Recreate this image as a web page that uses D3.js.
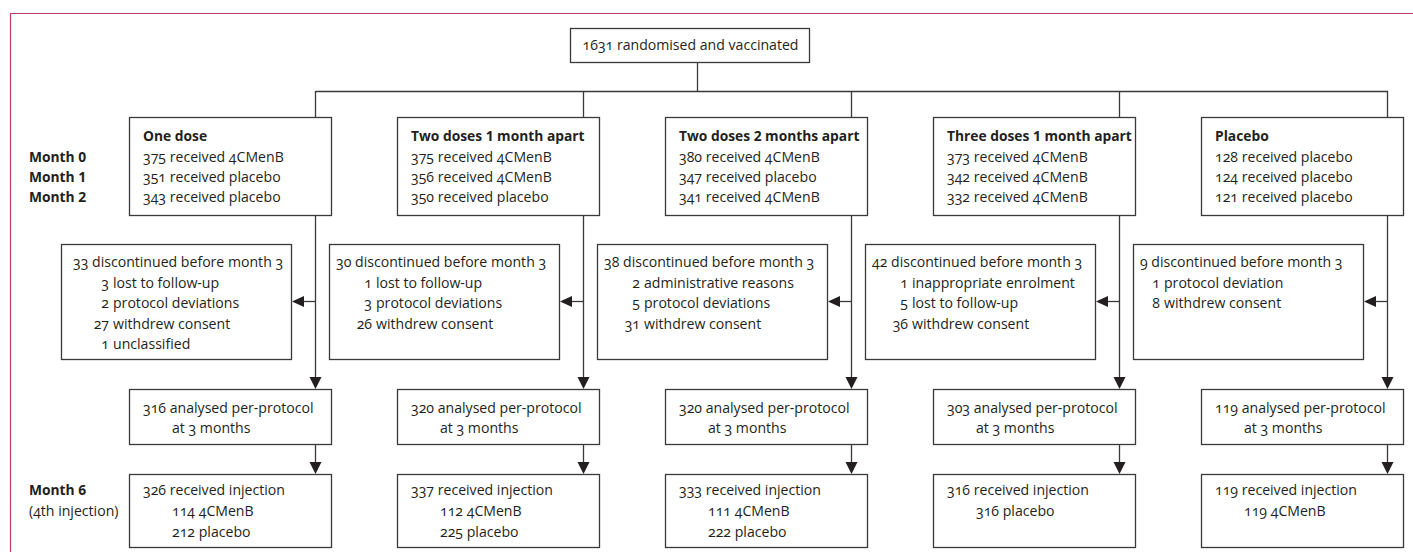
<!DOCTYPE html>
<html><head><meta charset="utf-8">
<script src="https://cdn.jsdelivr.net/npm/d3@7"></script>
<style>
body{margin:0;background:#fff}
text{font-family:"Open Sans",sans-serif;font-size:14.1px;fill:#231f20;font-variant-numeric:oldstyle-nums}
.b{font-weight:bold;font-size:13.8px;font-variant-numeric:lining-nums}
</style>
</head><body><svg id="c" width="1413" height="552"></svg>
<script>
// ---------- data ----------
const totalRandomised = 1631;
const groupTitles = ["One dose", "Two doses 1 month apart", "Two doses 2 months apart", "Three doses 1 month apart", "Placebo"];
const monthLabels = ["Month 0", "Month 1", "Month 2"];
const month0N = [375, 375, 380, 373, 128];
const month0V = ["4CMenB", "4CMenB", "4CMenB", "4CMenB", "placebo"];
const month1N = [351, 356, 347, 342, 124];
const month1V = ["placebo", "4CMenB", "placebo", "4CMenB", "placebo"];
const month2N = [343, 350, 341, 332, 121];
const month2V = ["placebo", "placebo", "4CMenB", "4CMenB", "placebo"];
const discontinuedN = [33, 30, 38, 42, 9];
const discontinuedReasons = [
  [[3, "lost to follow-up"], [2, "protocol deviations"], [27, "withdrew consent"], [1, "unclassified"]],
  [[1, "lost to follow-up"], [3, "protocol deviations"], [26, "withdrew consent"]],
  [[2, "administrative reasons"], [5, "protocol deviations"], [31, "withdrew consent"]],
  [[1, "inappropriate enrolment"], [5, "lost to follow-up"], [36, "withdrew consent"]],
  [[1, "protocol deviation"], [8, "withdrew consent"]]
];
const analysedN = [316, 320, 320, 303, 119];
const injectionN = [326, 337, 333, 316, 119];
const injectionSplit = [
  [[114, "4CMenB"], [212, "placebo"]],
  [[112, "4CMenB"], [225, "placebo"]],
  [[111, "4CMenB"], [222, "placebo"]],
  [[316, "placebo"]],
  [[119, "4CMenB"]]
];
const month6Label = ["Month 6", "(4th injection)"];

// ---------- layout ----------
const svg = d3.select("#c");
const STROKE = "#3a3a3a";
const x = d3.scaleBand().domain(groupTitles).range([129, 1403]).paddingInner(66 / 268).paddingOuter(0);
const bw = x.bandwidth();
const lineX = d => x(d) + bw - 16;            // vertical flow line of each column
const dLeft = d => x(d) - 68, dW = 230;        // discontinued box

const Y = {
  top: [28, 62], hub: 91, group: [117, 215], disc: [244, 359], arrowY: 301,
  anal: [389, 444], inj: [474, 547]
};

// frame
svg.append("line").attr("x1", 10).attr("x2", 1413).attr("y1", 13.5).attr("y2", 13.5).attr("stroke", "#c63b63").attr("stroke-width", 1.2);
svg.append("line").attr("x1", 10.5).attr("x2", 10.5).attr("y1", 13).attr("y2", 552).attr("stroke", "#c63b63").attr("stroke-width", 1.2);

function box(x0, y0, w, h) {
  svg.append("rect").attr("x", x0 + 0.5).attr("y", y0 + 0.5).attr("width", w).attr("height", h)
    .attr("fill", "#fff").attr("stroke", STROKE).attr("stroke-width", 1.3);
}
function line(x1, y1, x2, y2) {
  svg.append("line").attr("x1", x1 + 0.5).attr("y1", y1).attr("x2", x2 + 0.5).attr("y2", y2)
    .attr("stroke", STROKE).attr("stroke-width", 1.3);
}
function hline(x1, x2, y) {
  svg.append("line").attr("x1", x1).attr("y1", y + 0.5).attr("x2", x2).attr("y2", y + 0.5)
    .attr("stroke", STROKE).attr("stroke-width", 1.3);
}
function arrowDown(xc, yTip) {
  xc += 0.5;
  svg.append("path").attr("d", `M${xc - 6},${yTip - 12}L${xc + 6},${yTip - 12}L${xc},${yTip}Z`).attr("fill", "#231f20");
}
function arrowLeft(xTip, yc) {
  yc += 0.5;
  svg.append("path").attr("d", `M${xTip + 12},${yc - 5.5}L${xTip + 12},${yc + 5.5}L${xTip},${yc}Z`).attr("fill", "#231f20");
}
function txt(xx, yy, s, cls, anchor) {
  return svg.append("text").attr("x", xx).attr("y", yy).attr("class", cls || null)
    .attr("text-anchor", anchor || "start").text(s);
}

// top box & connectors
const topW = 239, topX = 570;
line(697, Y.top[1], 697, Y.hub);
hline(lineX(groupTitles[0]) + 0.5, lineX(groupTitles[4]) + 1, Y.hub);
box(topX, Y.top[0], topW, Y.top[1] - Y.top[0]);
txt(topX + topW / 2 + 1, 50, `${totalRandomised} randomised and vaccinated`, null, "middle");

groupTitles.forEach((g, i) => {
  const L = x(g), lx = lineX(g);
  // drop from hub to group box
  line(lx, Y.hub, lx, Y.group[0]);
  // main flow line
  line(lx, Y.group[1], lx, Y.anal[0] - 10);
  line(lx, Y.anal[1], lx, Y.inj[0] - 10);
  arrowDown(lx, Y.anal[0]);
  arrowDown(lx, Y.inj[0]);
  // arrow to discontinued box
  const dl = dLeft(g);
  hline(dl + dW + 10, lx + 1, Y.arrowY);
  arrowLeft(dl + dW + 1, Y.arrowY);

  // group box
  box(L, Y.group[0], bw, Y.group[1] - Y.group[0]);
  const tx = L + 14;
  txt(tx, 141, g, "b");
  txt(tx, 162, `${month0N[i]} received ${month0V[i]}`);
  txt(tx, 182, `${month1N[i]} received ${month1V[i]}`);
  txt(tx, 202, `${month2N[i]} received ${month2V[i]}`);

  // discontinued box
  box(dl, Y.disc[0], dW, Y.disc[1] - Y.disc[0]);
  const dx = dl + (i === 0 ? 12 : 7);
  txt(dx, 267, `${discontinuedN[i]} discontinued before month 3`);
  const maxDigits = d3.max(discontinuedReasons[i], r => String(r[0]).length);
  const numRight = dx + (maxDigits === 1 ? 20 : 36);
  discontinuedReasons[i].forEach((r, k) => {
    const yy = 287.5 + k * 20.5;
    txt(numRight, yy, r[0], null, "end");
    txt(numRight + 4, yy, r[1]);
  });

  // analysed box
  box(L, Y.anal[0], bw, Y.anal[1] - Y.anal[0]);
  txt(L + 14, 413, `${analysedN[i]} analysed per-protocol`);
  txt(L + 43, 433, "at 3 months");

  // injection box
  box(L, Y.inj[0], bw, Y.inj[1] - Y.inj[0]);
  txt(L + 14, 495, `${injectionN[i]} received injection`);
  injectionSplit[i].forEach((s, k) => txt(L + 43, 516 + k * 21, `${s[0]} ${s[1]}`));
});

monthLabels.forEach((m, k) => txt(29, 162 + k * 20, m, "b"));
txt(29, 495, month6Label[0], "b");
txt(29, 516, month6Label[1]);
</script></body></html>
